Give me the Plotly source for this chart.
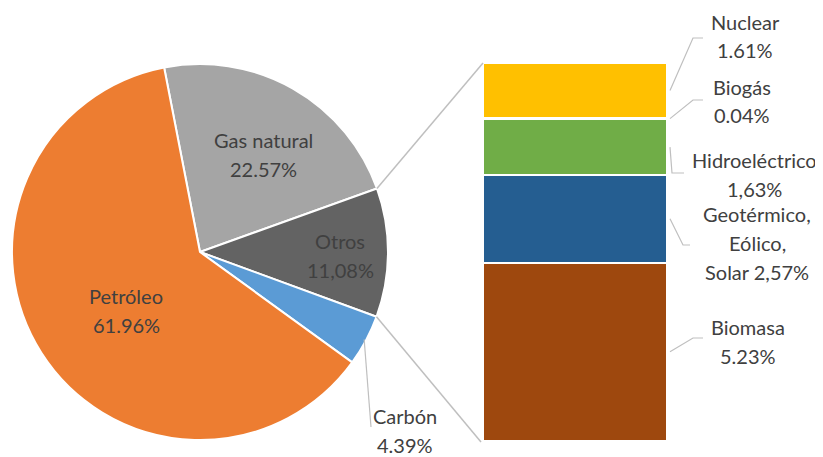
import math
import plotly.graph_objects as go

# ---------------- data ----------------
pie_labels = ["Gas natural", "Otros", "Carbón", "Petróleo"]
pie_values = [22.57, 11.08, 4.39, 61.96]
pie_text = ["Gas natural<br>22.57%", "Otros<br>11,08%", "Carbón<br>4.39%", "Petróleo<br>61.96%"]
pie_colors = ["#A5A5A5", "#636363", "#5B9BD5", "#ED7D31"]

bar_labels = ["Biomasa", "Geotérmico, Eólico, Solar", "Hidroeléctrico", "Biogás", "Nuclear"]
bar_values = [5.23, 2.57, 1.63, 0.04, 1.61]
bar_text = ["Biomasa<br>5.23%", "Geotérmico,<br>Eólico,<br>Solar 2,57%",
            "Hidroeléctrico<br>1,63%", "Biogás<br>0.04%", "Nuclear<br>1.61%"]
bar_colors = ["#9E480E", "#255E91", "#70AD47", "#BFBFBF", "#FFC000"]

# ---------------- layout (pixels, page coordinates) ----------------
OFF = 8                      # page body margin
W, H = 823 - OFF, 457 - OFF  # figure size
CX, CY, R = 200, 252, 188
ROT = -11
BX0, BX1, BY_TOP, BY_BOT = 483, 667, 63, 441
FONT = "Lato"
FSIZE = 20
LS = 29                      # line spacing of labels (px)
TXT = "#404040"
LINE = "#BFBFBF"

pie_label_pos = {"Gas natural": (263, 154), "Otros": (340, 255), "Petróleo": (126, 310), "Carbón": (405, 430)}
bar_label_pos = {"Nuclear": (745, 36), "Biogás": (742, 101), "Hidroeléctrico": (754, 175),
                 "Geotérmico, Eólico, Solar": (757, 243), "Biomasa": (748, 341)}
bar_leader_pts = {"Nuclear": [(693, 38), (703, 38)], "Biogás": [(693, 100), (703, 100)],
                  "Hidroeléctrico": [(672, 173), (684, 173)],
                  "Geotérmico, Eólico, Solar": [(683, 245), (690, 245)],
                  "Biomasa": [(693, 338), (703, 338)]}


def px(x):
    return (x - OFF) / W


def py(y):
    return 1 - (y - OFF) / H


def pie_point(angle_deg, r=R):
    a = math.radians(angle_deg)
    return CX + r * math.sin(a), CY - r * math.cos(a)


def add_label(annotations, text, cx, cy):
    lines = text.split("<br>")
    n = len(lines)
    for i, ln in enumerate(lines):
        y = cy + (i - (n - 1) / 2) * LS
        annotations.append(dict(x=px(cx), y=py(y), xref="paper", yref="paper", text=ln,
                                showarrow=False, xanchor="center", yanchor="middle",
                                borderpad=0,
                                font=dict(family=FONT, size=FSIZE, color=TXT)))


fig = go.Figure()

fig.add_trace(go.Pie(
    labels=pie_labels, values=pie_values, sort=False, direction="clockwise",
    rotation=ROT, textinfo="none", hoverinfo="label+percent",
    marker=dict(colors=pie_colors, line=dict(color="white", width=2)),
    domain=dict(x=[px(CX - R), px(CX + R)], y=[py(CY + R), py(CY - R)]),
    showlegend=False,
))

total_bar = sum(bar_values)
for lab, val, col in zip(bar_labels, bar_values, bar_colors):
    fig.add_trace(go.Bar(
        x=[0], y=[val], name=lab, marker=dict(color=col, line=dict(color="white", width=2)),
        width=1, showlegend=False, hoverinfo="name+y",
    ))

shapes = []
annotations = []

# pie slice angles
total_pie = sum(pie_values)
angles = {}
a = ROT
for lab, val in zip(pie_labels, pie_values):
    angles[lab] = (a, a + val / total_pie * 360)
    a += val / total_pie * 360

# connector lines pie -> bar
o0, o1 = angles["Otros"]
p0 = pie_point(o0)
p1 = pie_point(o1)
shapes.append(dict(type="line", xref="paper", yref="paper", x0=px(p0[0]), y0=py(p0[1]),
                   x1=px(BX0), y1=py(BY_TOP), line=dict(color=LINE, width=1.5)))
shapes.append(dict(type="line", xref="paper", yref="paper", x0=px(p1[0]), y0=py(p1[1]),
                   x1=px(BX0 - 2), y1=py(BY_BOT + 1), line=dict(color=LINE, width=1.5)))

# Carbón leader
c0, c1 = angles["Carbón"]
cm = pie_point((c0 + c1) / 2, R - 2)
shapes.append(dict(type="line", xref="paper", yref="paper", x0=px(cm[0]), y0=py(cm[1]),
                   x1=px(371), y1=py(427), line=dict(color=LINE, width=1.2)))

for lab, txt in zip(pie_labels, pie_text):
    x, y = pie_label_pos[lab]
    add_label(annotations, txt, x, y)

# bar labels and leaders
cum = 0
for lab, val, txt in zip(bar_labels, bar_values, bar_text):
    mid = cum + val / 2
    cum += val
    ymid = BY_BOT - (BY_BOT - BY_TOP) * mid / total_bar
    pts = [(BX1 + 3, ymid)] + bar_leader_pts[lab]
    path = "M " + " L ".join(f"{px(x):.5f},{py(y):.5f}" for x, y in pts)
    shapes.append(dict(type="path", xref="paper", yref="paper", path=path,
                       line=dict(color=LINE, width=1.2)))
    x, y = bar_label_pos[lab]
    add_label(annotations, txt, x, y)

fig.update_layout(
    width=W, height=H, margin=dict(l=0, r=0, t=0, b=0),
    paper_bgcolor="white", plot_bgcolor="white",
    barmode="stack", bargap=0,
    xaxis=dict(domain=[px(BX0), px(BX1)], range=[-0.5, 0.5], visible=False, fixedrange=True),
    yaxis=dict(domain=[py(BY_BOT), py(BY_TOP)], range=[0, total_bar], visible=False, fixedrange=True),
    shapes=shapes, annotations=annotations,
    font=dict(family=FONT, color=TXT),
)

fig.write_html("out.html")
